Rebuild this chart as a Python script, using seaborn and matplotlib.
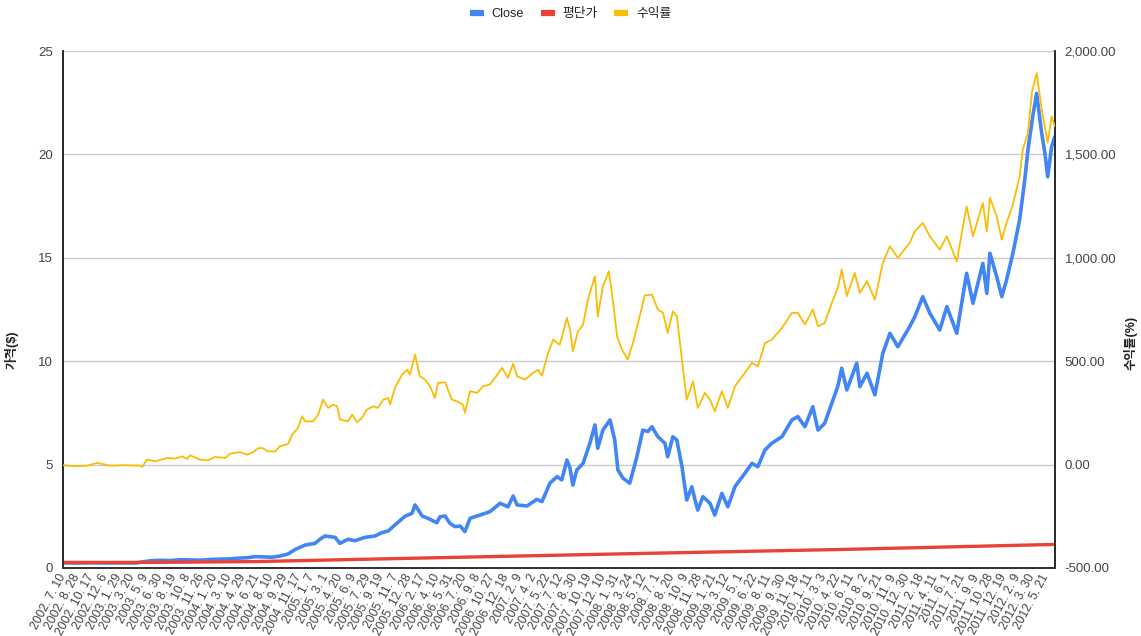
import matplotlib
matplotlib.use("Agg")
import matplotlib.pyplot as plt
import seaborn as sns
import pandas as pd
from matplotlib.lines import Line2D
from matplotlib.ticker import FuncFormatter, FixedLocator

# ---------------- data ----------------
tick_labels = [
    "2002. 7. 10", "2002. 8. 28", "2002. 10. 17", "2002. 12. 6",
    "2003. 1. 29", "2003. 3. 20", "2003. 5. 9", "2003. 6. 30", "2003. 8. 19",
    "2003. 10. 8", "2003. 11. 26",
    "2004. 1. 20", "2004. 3. 10", "2004. 4. 29", "2004. 6. 21", "2004. 8. 10",
    "2004. 9. 29", "2004. 11. 17",
    "2005. 1. 7", "2005. 3. 1", "2005. 4. 20", "2005. 6. 9", "2005. 7. 29",
    "2005. 9. 19", "2005. 11. 7", "2005. 12. 28",
    "2006. 2. 17", "2006. 4. 10", "2006. 5. 31", "2006. 7. 20", "2006. 9. 8",
    "2006. 10. 27", "2006. 12. 18",
    "2007. 2. 9", "2007. 4. 2", "2007. 5. 22", "2007. 7. 12", "2007. 8. 30",
    "2007. 10. 19", "2007. 12. 10",
    "2008. 1. 31", "2008. 3. 24", "2008. 5. 12", "2008. 7. 1", "2008. 8. 20",
    "2008. 10. 9", "2008. 11. 28",
    "2009. 1. 21", "2009. 3. 12", "2009. 5. 1", "2009. 6. 22", "2009. 8. 11",
    "2009. 9. 30", "2009. 11. 18",
    "2010. 1. 11", "2010. 3. 3", "2010. 4. 22", "2010. 6. 11", "2010. 8. 2",
    "2010. 9. 21", "2010. 11. 9", "2010. 12. 30",
    "2011. 2. 18", "2011. 4. 11", "2011. 6. 1", "2011. 7. 21", "2011. 9. 9",
    "2011. 10. 28", "2011. 12. 19",
    "2012. 2. 9", "2012. 3. 30", "2012. 5. 21",
]
label_step = 35          # trading days between category labels
n_days = 2509            # number of trading-day categories

close_day = [0, 30, 68, 106, 144, 182, 202, 220, 245, 270, 296, 321, 346, 372,
             397, 422, 447, 468, 485, 503, 528, 549, 569, 587, 612, 637, 650,
             662, 688, 700, 720, 738, 763, 789, 806, 822, 839, 865, 882, 890,
             908, 923, 945, 953, 966, 978, 991, 1004, 1016, 1029, 1054, 1079,
             1105, 1125, 1138, 1148, 1173, 1198, 1211, 1231, 1249, 1261, 1274,
             1282, 1289, 1299, 1315, 1332, 1345, 1352, 1365, 1383, 1395, 1403,
             1416, 1433, 1451, 1466, 1479, 1489, 1504, 1522, 1529, 1542, 1552,
             1565, 1577, 1590, 1598, 1605, 1618, 1636, 1648, 1666, 1681, 1699,
             1724, 1742, 1757, 1775, 1792, 1818, 1843, 1858, 1876, 1896, 1909,
             1926, 1944, 1959, 1969, 1982, 2007, 2015, 2033, 2053, 2073, 2091,
             2111, 2141, 2154, 2174, 2192, 2217, 2235, 2260, 2285, 2301, 2326,
             2336, 2344, 2361, 2374, 2386, 2402, 2419, 2432, 2440, 2452, 2462,
             2475, 2483, 2490, 2500, 2508]
close_price = [0.25, 0.24, 0.25, 0.24, 0.25, 0.24, 0.30, 0.35, 0.37, 0.36, 0.40,
               0.39, 0.38, 0.41, 0.43, 0.44, 0.48, 0.50, 0.55, 0.54, 0.52, 0.58,
               0.68, 0.90, 1.11, 1.19, 1.40, 1.55, 1.48, 1.19, 1.39, 1.32, 1.48,
               1.55, 1.71, 1.79, 2.08, 2.51, 2.64, 3.05, 2.51, 2.40, 2.19, 2.48,
               2.51, 2.16, 2.00, 2.03, 1.76, 2.40, 2.56, 2.72, 3.13, 2.96, 3.48,
               3.05, 3.00, 3.32, 3.21, 4.10, 4.42, 4.26, 5.22, 4.82, 4.01, 4.74,
               5.06, 6.03, 6.92, 5.79, 6.67, 7.16, 6.19, 4.74, 4.34, 4.10, 5.38,
               6.67, 6.60, 6.83, 6.35, 6.03, 5.38, 6.35, 6.19, 4.90, 3.29, 3.93,
               3.29, 2.80, 3.45, 3.13, 2.56, 3.61, 2.96, 3.93, 4.58, 5.06, 4.90,
               5.71, 6.03, 6.35, 7.16, 7.32, 6.83, 7.80, 6.67, 7.00, 7.96, 8.77,
               9.66, 8.61, 9.90, 8.77, 9.42, 8.37, 10.38, 11.35, 10.70, 11.67,
               12.15, 13.12, 12.32, 11.51, 12.64, 11.35, 14.25, 12.80, 14.73,
               13.28, 15.22, 14.09, 13.12, 13.93, 15.22, 16.83, 18.76, 20.21,
               21.82, 22.95, 21.01, 20.05, 18.92, 20.37, 20.86]

avg_day = [0, 220, 485, 978, 1479, 1977, 2508]
avg_price = [0.27, 0.27, 0.31, 0.51, 0.71, 0.90, 1.14]

ret_day = [0, 30, 61, 86, 119, 157, 195, 200, 212, 233, 263, 283, 301, 313, 321,
           346, 367, 384, 410, 422, 447, 465, 480, 493, 503, 518, 536, 549, 569,
           579, 594, 604, 612, 632, 645, 657, 670, 683, 693, 700, 720, 731, 743,
           756, 768, 784, 796, 809, 822, 827, 839, 857, 870, 877, 890, 902, 915,
           928, 940, 948, 966, 983, 996, 1011, 1016, 1029, 1047, 1062, 1079,
           1092, 1110, 1125, 1138, 1148, 1168, 1188, 1201, 1211, 1224, 1239,
           1256, 1274, 1282, 1289, 1302, 1315, 1327, 1345, 1352, 1365, 1380,
           1390, 1401, 1413, 1428, 1441, 1454, 1471, 1489, 1504, 1517, 1529,
           1542, 1552, 1565, 1577, 1593, 1605, 1623, 1636, 1648, 1666, 1681,
           1699, 1724, 1742, 1757, 1775, 1792, 1818, 1843, 1858, 1876, 1896,
           1909, 1926, 1944, 1959, 1969, 1982, 2002, 2015, 2033, 2053, 2073,
           2091, 2111, 2141, 2154, 2174, 2192, 2217, 2235, 2260, 2285, 2301,
           2326, 2336, 2344, 2361, 2374, 2386, 2402, 2419, 2427, 2440, 2450,
           2462, 2475, 2490, 2500, 2508]
ret_pct = [-3, -8, -5, 8, -5, -3, -5, -11, 24, 16, 32, 29, 40, 27, 45, 24, 21,
           37, 32, 53, 60, 48, 60, 79, 81, 64, 64, 89, 100, 145, 177, 234, 209,
           209, 242, 314, 274, 290, 282, 218, 209, 242, 205, 226, 266, 282, 274,
           314, 322, 290, 371, 435, 459, 435, 532, 427, 411, 379, 322, 395, 398,
           314, 306, 290, 250, 355, 347, 379, 387, 419, 468, 419, 488, 427, 411,
           443, 459, 430, 524, 604, 580, 709, 653, 548, 645, 677, 798, 911, 717,
           862, 935, 798, 620, 556, 508, 588, 685, 818, 822, 750, 734, 637, 741,
           717, 508, 314, 403, 274, 347, 314, 258, 355, 274, 379, 443, 492, 475,
           588, 604, 661, 734, 734, 677, 750, 669, 685, 782, 854, 943, 814, 927,
           830, 887, 798, 975, 1056, 1000, 1072, 1128, 1169, 1104, 1040, 1104,
           983, 1249, 1104, 1265, 1128, 1290, 1201, 1088, 1169, 1257, 1394,
           1523, 1604, 1798, 1894, 1717, 1556, 1684, 1636]

left_ticks = [0, 5, 10, 15, 20, 25]
right_ticks = [-500, 0, 500, 1000, 1500, 2000]
series_names = ["Close", "평단가", "수익률"]

# ---------------- style ----------------
sns.set_style("white")
plt.rcParams["font.family"] = ["Liberation Sans", "Noto Sans CJK KR", "DejaVu Sans"]

c_blue, c_red, c_yel = "#4285F4", "#EA4335", "#FBBC04"
txt = "#444444"

W, H = 1141, 636
fig = plt.figure(figsize=(W / 100, H / 100), dpi=100)
ax = fig.add_axes([63 / W, 1 - 568 / H, 992 / W, 517 / H])
ax2 = ax.twinx()

df_close = pd.DataFrame({"day": close_day, "v": close_price})
df_avg = pd.DataFrame({"day": avg_day, "v": avg_price})
df_ret = pd.DataFrame({"day": ret_day, "v": ret_pct})

sns.lineplot(data=df_close, x="day", y="v", ax=ax, color=c_blue, linewidth=2.6,
             sort=False, legend=False, zorder=3)
sns.lineplot(data=df_avg, x="day", y="v", ax=ax, color=c_red, linewidth=2.4,
             sort=False, legend=False, zorder=4)
sns.lineplot(data=df_ret, x="day", y="v", ax=ax2, color=c_yel, linewidth=1.3,
             sort=False, legend=False, zorder=5)

ax.set_xlim(-0.5, n_days - 0.5)
ax.set_ylim(0, 25)
ax2.set_ylim(-500, 2000)

ax.yaxis.set_major_locator(FixedLocator(left_ticks))
ax2.yaxis.set_major_locator(FixedLocator(right_ticks))
ax.yaxis.set_major_formatter(FuncFormatter(lambda v, p: f"{v:g}"))
ax2.yaxis.set_major_formatter(FuncFormatter(lambda v, p: f"{v:,.2f}"))

tick_pos = [i * label_step for i in range(len(tick_labels))]
ax.set_xticks(tick_pos)
ax.set_xticklabels(tick_labels, rotation=62, ha="right", va="center",
                   rotation_mode="anchor", fontsize=8.7, color=txt)

ax.grid(axis="y", color="#cccccc", linewidth=1)
ax.grid(axis="x", visible=False)
ax2.grid(False)
ax.set_axisbelow(True)

ax.tick_params(axis="x", length=0, pad=5)
ax.tick_params(axis="y", length=0, pad=7, labelsize=9.5, labelcolor=txt)
ax2.tick_params(axis="y", length=0, pad=7, labelsize=9.5, labelcolor=txt)

for a in (ax, ax2):
    a.spines["top"].set_visible(False)
    a.spines["left"].set_color("#222222")
    a.spines["right"].set_color("#222222")
    a.spines["bottom"].set_color("#333333")
    a.spines["left"].set_linewidth(1.1)
    a.spines["right"].set_linewidth(1.1)
    a.spines["bottom"].set_linewidth(1.3)

ax.set_xlabel("")
ax.set_ylabel("가격($)", fontsize=9, fontweight="bold", color="#222222")
ax2.set_ylabel("수익률(%)", fontsize=9, fontweight="bold", color="#222222",
               rotation=90)
ax.yaxis.label.set_verticalalignment("center")
ax2.yaxis.label.set_verticalalignment("center")
ax.yaxis.set_label_coords((12 - 63) / 992, (568 - 350) / 517)
ax2.yaxis.set_label_coords((1131 - 63) / 992, (568 - 343) / 517)

handles = [Line2D([0], [0], color=c, linewidth=4.5, solid_capstyle="butt")
           for c in (c_blue, c_red, c_yel)]
fig.legend(handles, series_names, loc="center", bbox_to_anchor=(0.5, 1 - 14 / H),
           ncol=3, frameon=False, fontsize=9.2, handlelength=1.1, handletextpad=0.6,
           columnspacing=1.3, labelcolor="#222222")

fig.savefig("out.png", dpi=100)
